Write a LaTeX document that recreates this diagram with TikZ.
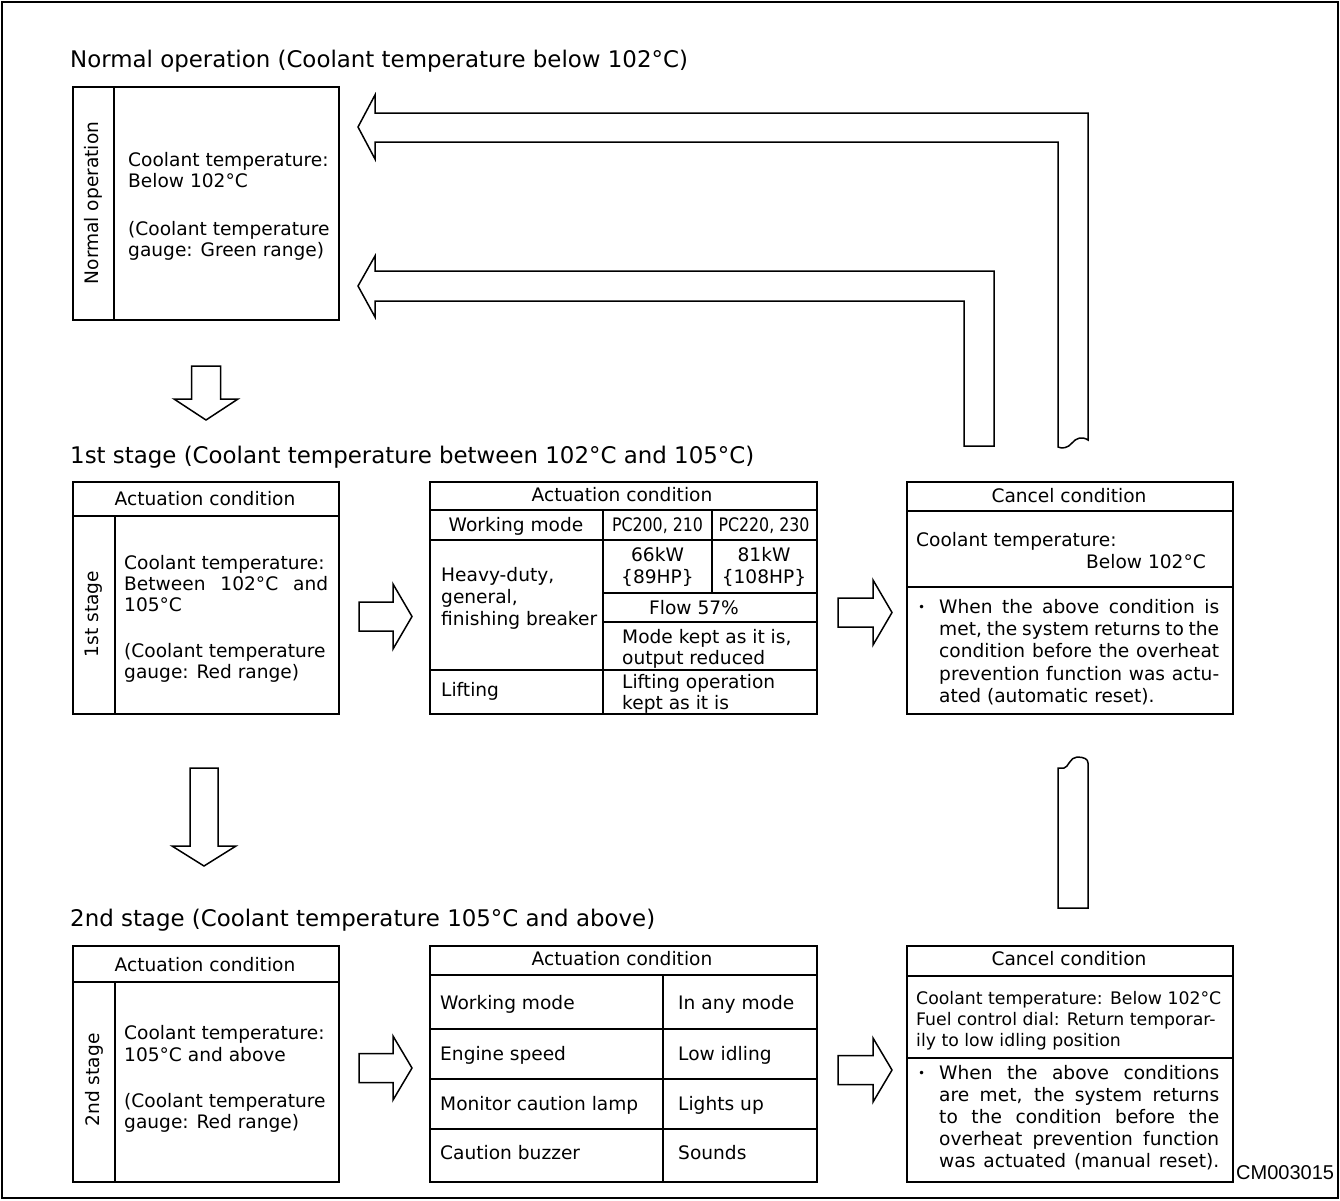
\documentclass[tikz,border=0pt]{standalone}
\usepackage{fontspec}
\setmainfont{DejaVu Sans}
\newfontfamily\codefont{Liberation Sans}
\begin{document}
\begin{tikzpicture}[x=1pt,y=-1pt,
 frame/.style={draw=black,line width=1.6pt},
 boxn/.style={draw=black,line width=1.5pt,rectangle,inner sep=0pt,anchor=north west},
 rule/.style={draw=black,line width=1.3pt},
 blockarrow/.style={draw=black,line width=1.5pt,fill=white,line join=miter},
 txt/.style={inner sep=0pt,font=\fontsize{18.6}{21}\selectfont},
 txtl/.style={txt,anchor=base west},
 txtc/.style={txt,anchor=base},
 txtr/.style={txt,anchor=base east},
 smalltxt/.style={inner sep=0pt,anchor=base west,font=\fontsize{17.3}{21}\selectfont},
 bul/.style={inner sep=0pt,anchor=base west,font=\fontsize{12}{14}\selectfont},
 ttl/.style={inner sep=0pt,anchor=base west,font=\fontsize{22.9}{26}\selectfont},
]
\useasboundingbox (0,0) rectangle (1340,1200);
\draw[frame] (2,2) rectangle (1338,1198);

% ---------- titles
\node[ttl] (t1) at (70,67) {Normal operation (Coolant temperature below 102°C)};
\node[ttl] (t2) at (70,463) {1st stage (Coolant temperature between 102°C and 105°C)};
\node[ttl] (t3) at (70,926) {2nd stage (Coolant temperature 105°C and above)};

% ---------- boxes
\node[boxn,minimum width=266pt,minimum height=233pt] (nbox) at (72,86) {};
\node[boxn,minimum width=266pt,minimum height=232pt] (aone) at (72,481) {};
\node[boxn,minimum width=387pt,minimum height=232pt] (tone) at (429,481) {};
\node[boxn,minimum width=326pt,minimum height=232pt] (cone) at (906,481) {};
\node[boxn,minimum width=266pt,minimum height=236pt] (atwo) at (72,945) {};
\node[boxn,minimum width=387pt,minimum height=236pt] (ttwo) at (429,945) {};
\node[boxn,minimum width=326pt,minimum height=236pt] (ctwo) at (906,945) {};

% ---------- inner rules
\draw[rule] (114,86) -- (114,319);
\draw[rule] (72,516) -- (338,516);
\draw[rule] (115,516) -- (115,713);
\draw[rule] (429,510) -- (816,510);
\draw[rule] (429,540) -- (816,540);
\draw[rule] (603,593) -- (816,593);
\draw[rule] (603,622) -- (816,622);
\draw[rule] (429,670) -- (816,670);
\draw[rule] (603,510) -- (603,713);
\draw[rule] (712,510) -- (712,593);
\draw[rule] (906,511) -- (1232,511);
\draw[rule] (906,587) -- (1232,587);
\draw[rule] (72,982) -- (338,982);
\draw[rule] (115,982) -- (115,1181);
\draw[rule] (429,975) -- (816,975);
\draw[rule] (429,1029) -- (816,1029);
\draw[rule] (429,1079) -- (816,1079);
\draw[rule] (429,1129) -- (816,1129);
\draw[rule] (663,975) -- (663,1181);
\draw[rule] (906,976) -- (1232,976);
\draw[rule] (906,1058) -- (1232,1058);

% ---------- block arrows
\draw[blockarrow] (358,127) -- (375,95) -- (375,113) -- (1088,113) -- (1088,440)
  .. controls (1082,436) and (1076,438) .. (1072,443)
  .. controls (1068,448) and (1062,449) .. (1058,447)
  -- (1058,142) -- (375,142) -- (375,159) -- cycle;
\draw[blockarrow] (358,286) -- (375,256) -- (375,271) -- (994,271) -- (994,446)
  -- (964,446) -- (964,301) -- (375,301) -- (375,317) -- cycle;
\draw[blockarrow] (1058,908) -- (1058,768) -- (1064,768)
  .. controls (1068,768) and (1070,757) .. (1077,757)
  .. controls (1084,757) and (1088,759) .. (1088,763) -- (1088,908) -- cycle;
\draw[blockarrow] (191.5,366) -- (220.5,366) -- (220.5,399) -- (238,399) -- (206,420)
  -- (174,399) -- (191.5,399) -- cycle;
\draw[blockarrow] (190,768) -- (218,768) -- (218,846) -- (236,846) -- (204,866)
  -- (172,846) -- (190,846) -- cycle;
\draw[blockarrow] (359,602) -- (393,602) -- (393,584) -- (412,616.5) -- (393,649)
  -- (393,631) -- (359,631) -- cycle;
\draw[blockarrow] (838,598) -- (873,598) -- (873,580) -- (892,612.5) -- (873,645)
  -- (873,627) -- (838,627) -- cycle;
\draw[blockarrow] (359,1053.5) -- (393,1053.5) -- (393,1036) -- (412,1068) -- (393,1100)
  -- (393,1082.5) -- (359,1082.5) -- cycle;
\draw[blockarrow] (838,1055.5) -- (873,1055.5) -- (873,1038) -- (892,1070) -- (873,1102)
  -- (873,1084.5) -- (838,1084.5) -- cycle;

% ---------- normal operation box
\node[txt,rotate=90] (nlab) at (93,203) {Normal operation};
\node[txtl] (n1) at (128,166.6) {Coolant temperature:};
\node[txtl] (n2) at (128,187.6) {Below 102°C};
\node[txtl] (n3) at (128,235.6) {(Coolant temperature};
\node[txtl] (n4) at (128,256.6) {gauge: Green range)};

% ---------- 1st stage actuation box
\node[txtc] (a1h) at (205,505.6) {Actuation condition};
\node[txt,rotate=90] (a1lab) at (94,614) {1st stage};
\node[txtl] (a11) at (124,569.6) {Coolant temperature:};
\node[txtl] (a12) at (124,590.6) {\makebox[204pt][s]{Between 102°C and}};
\node[txtl] (a13) at (124,611.6) {105°C};
\node[txtl] (a14) at (124,657.6) {(Coolant temperature};
\node[txtl] (a15) at (124,678.6) {gauge: Red range)};

% ---------- 1st stage table
\node[txtc] (t1h) at (622,501.6) {Actuation condition};
\node[txtc] (t1wm) at (516,531.6) {Working mode};
\node[txtc] (t1pa) at (657.5,531.6) {\scalebox{0.85}[1]{PC200, 210}};
\node[txtc] (t1pb) at (764,531.6) {\scalebox{0.85}[1]{PC220, 230}};
\node[txtl] (t1hd) at (441,581.6) {Heavy-duty,};
\node[txtl] (t1ge) at (441,603.6) {general,};
\node[txtl] (t1fb) at (441,625.6) {finishing breaker};
\node[txtc] (t1ka) at (657.5,561.6) {66kW};
\node[txtc] (t1ha) at (657.5,583.6) {\{89HP\}};
\node[txtc] (t1kb) at (764,561.6) {81kW};
\node[txtc] (t1hb) at (764,583.6) {\{108HP\}};
\node[txtc] (t1fl) at (694,614.6) {Flow 57\%};
\node[txtl] (t1m1) at (622,643.6) {Mode kept as it is,};
\node[txtl] (t1m2) at (622,664.6) {output reduced};
\node[txtl] (t1li) at (441,696.6) {Lifting};
\node[txtl] (t1l1) at (622,688.6) {Lifting operation};
\node[txtl] (t1l2) at (622,709) {kept as it is};

% ---------- 1st stage cancel box
\node[txtc] (c1h) at (1069,502.6) {Cancel condition};
\node[txtl] (c11) at (916,546.6) {Coolant temperature:};
\node[txtr] (c12) at (1206,568.6) {Below 102°C};
\node[bul] (c1b) at (918,611.6) {•};
\node[txtl] (c13) at (939,613.6) {\makebox[280pt][s]{When the above condition is}};
\node[txtl] (c14) at (939,635.6) {\makebox[280pt][s]{met, the system returns to the}};
\node[txtl] (c15) at (939,657.6) {\makebox[280pt][s]{condition before the overheat}};
\node[txtl] (c16) at (939,680.6) {\makebox[280pt][s]{prevention function was actu-}};
\node[txtl] (c17) at (939,702.6) {ated (automatic reset).};

% ---------- 2nd stage actuation box
\node[txtc] (a2h) at (205,971.6) {Actuation condition};
\node[txt,rotate=90] (a2lab) at (94,1080) {2nd stage};
\node[txtl] (a21) at (124,1039.6) {Coolant temperature:};
\node[txtl] (a22) at (124,1061.6) {105°C and above};
\node[txtl] (a23) at (124,1107.6) {(Coolant temperature};
\node[txtl] (a24) at (124,1128.6) {gauge: Red range)};

% ---------- 2nd stage table
\node[txtc] (t2h) at (622,965.6) {Actuation condition};
\node[txtl] (t2a) at (440,1009.6) {Working mode};
\node[txtl] (t2b) at (440,1060.6) {Engine speed};
\node[txtl] (t2c) at (440,1110.6) {Monitor caution lamp};
\node[txtl] (t2d) at (440,1159.6) {Caution buzzer};
\node[txtl] (t2e) at (678,1009.6) {In any mode};
\node[txtl] (t2f) at (678,1060.6) {Low idling};
\node[txtl] (t2g) at (678,1110.6) {Lights up};
\node[txtl] (t2h2) at (678,1159.6) {Sounds};

% ---------- 2nd stage cancel box
\node[txtc] (c2h) at (1069,965.6) {Cancel condition};
\node[smalltxt] (c21) at (916,1004.3) {Coolant temperature: Below 102°C};
\node[smalltxt] (c22) at (916,1025.3) {Fuel control dial: Return temporar-};
\node[smalltxt] (c23) at (916,1046.3) {ily to low idling position};
\node[bul] (c2b) at (918,1077.6) {•};
\node[txtl] (c24) at (939,1079.6) {\makebox[280pt][s]{When the above conditions}};
\node[txtl] (c25) at (939,1101.6) {\makebox[280pt][s]{are met, the system returns}};
\node[txtl] (c26) at (939,1123.6) {\makebox[280pt][s]{to the condition before the}};
\node[txtl] (c27) at (939,1145.6) {\makebox[280pt][s]{overheat prevention function}};
\node[txtl] (c28) at (939,1167.6) {\makebox[280pt][s]{was actuated (manual reset).}};

\node[inner sep=0pt,anchor=base west,font=\codefont\fontsize{20}{22}\selectfont] (code) at (1236,1179) {CM003015};
\end{tikzpicture}
\end{document}
